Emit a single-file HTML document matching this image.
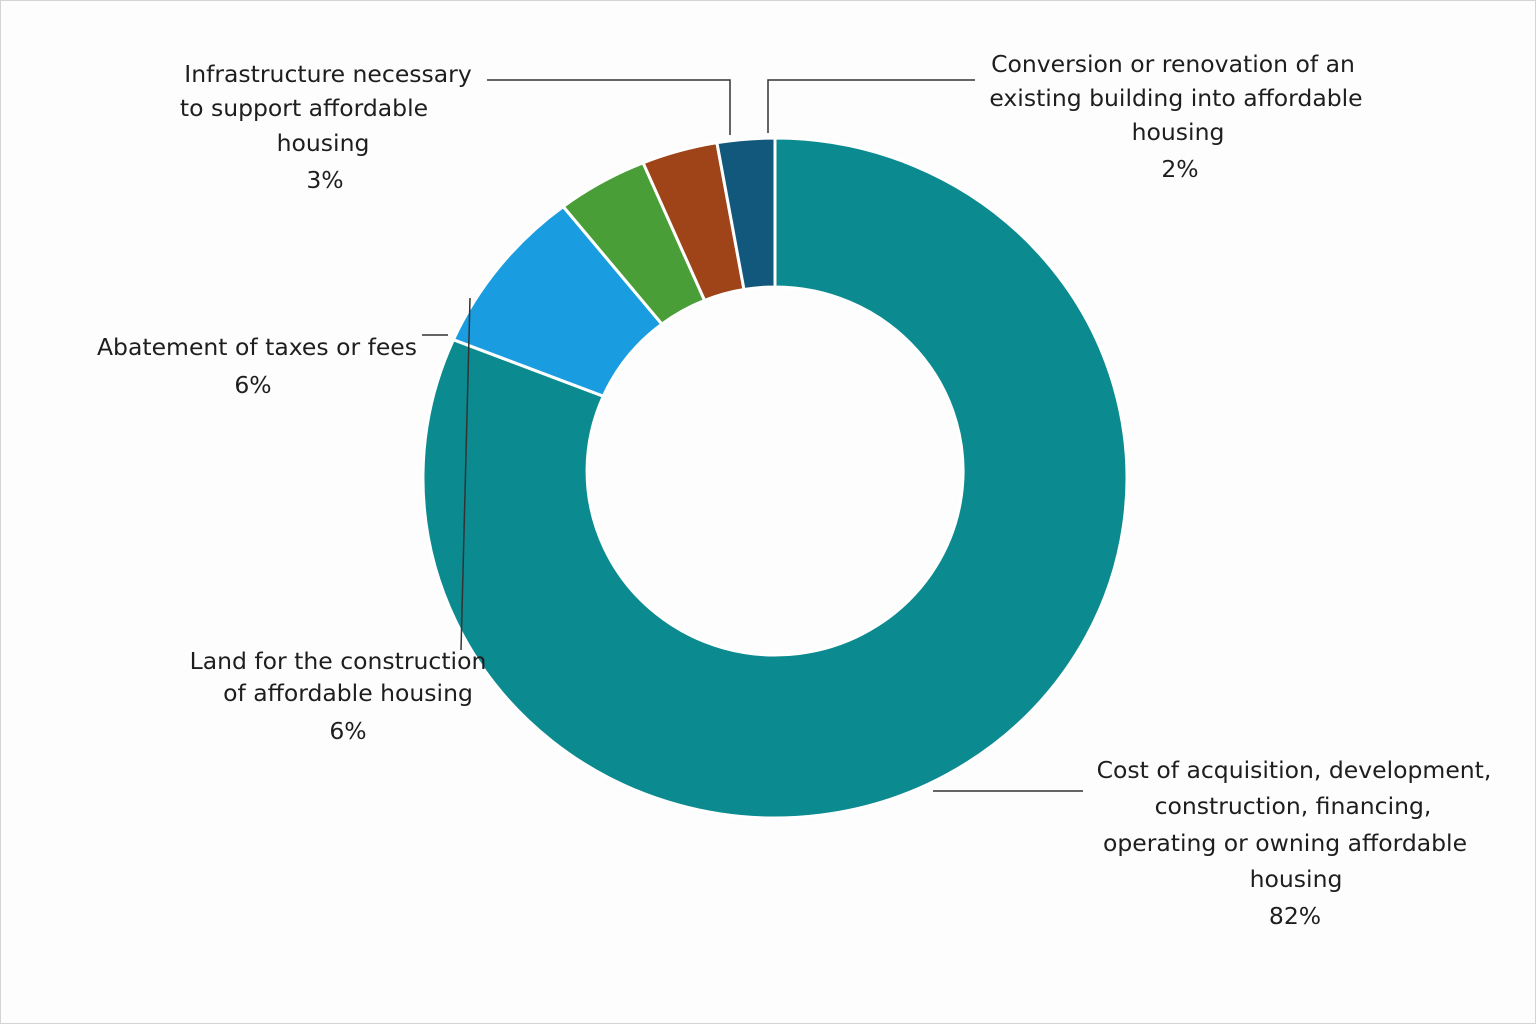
<!DOCTYPE html>
<html><head><meta charset="utf-8"><style>
html,body{margin:0;padding:0;background:#fff}
body{width:1536px;height:1024px;overflow:hidden}
svg{display:block}
text{font-family:"DejaVu Sans","Liberation Sans",sans-serif;font-size:23.5px;fill:#1e1e1e}
</style></head><body>
<svg width="1536" height="1024" viewBox="0 0 1536 1024">
<rect x="0.5" y="0.5" width="1535" height="1023" fill="#fdfdfd" stroke="#d4d4d4"/>
<g stroke="#fff" stroke-width="3" stroke-linejoin="round">
<path d="M775,138 A352,340 0 1 1 453.4,339.7 L603.3,396.2 A188,184 0 1 0 775,287 Z" fill="#0b8a8f"/>
<path d="M453.4,339.7 A352,340 0 0 1 563.2,206.5 L661.9,324.1 A188,184 0 0 0 603.3,396.2 Z" fill="#1a9de0"/>
<path d="M563.2,206.5 A352,340 0 0 1 643.1,162.8 L704.6,300.4 A188,184 0 0 0 661.9,324.1 Z" fill="#4a9e38"/>
<path d="M643.1,162.8 A352,340 0 0 1 716.9,142.7 L744,289.5 A188,184 0 0 0 704.6,300.4 Z" fill="#9e4418"/>
<path d="M716.9,142.7 A352,340 0 0 1 775,138 L775,287 A188,184 0 0 0 744,289.5 Z" fill="#12587c"/>
</g>
<g stroke="#333" stroke-width="1.5" fill="none">
<polyline points="487,80 730,80 730,135"/>
<polyline points="975,80 768,80 768,133"/>
<line x1="422" y1="335" x2="448" y2="335"/>
<line x1="461" y1="650" x2="470" y2="298"/>
<line x1="933" y1="791" x2="1083" y2="791"/>
</g>
<g text-anchor="middle">
<text x="328" y="82">Infrastructure necessary</text>
<text x="304" y="116">to support affordable</text>
<text x="323" y="151">housing</text>
<text x="325" y="188">3%</text>
<text x="1173" y="72">Conversion or renovation of an</text>
<text x="1176" y="106">existing building into affordable</text>
<text x="1178" y="140">housing</text>
<text x="1180" y="177">2%</text>
<text x="257" y="355">Abatement of taxes or fees</text>
<text x="253" y="393">6%</text>
<text x="338" y="669">Land for the construction</text>
<text x="348" y="701">of affordable housing</text>
<text x="348" y="739">6%</text>
<text x="1294" y="778">Cost of acquisition, development,</text>
<text x="1293" y="814">construction, financing,</text>
<text x="1285" y="851">operating or owning affordable</text>
<text x="1296" y="887">housing</text>
<text x="1295" y="924">82%</text>
</g>
</svg>
</body></html>
